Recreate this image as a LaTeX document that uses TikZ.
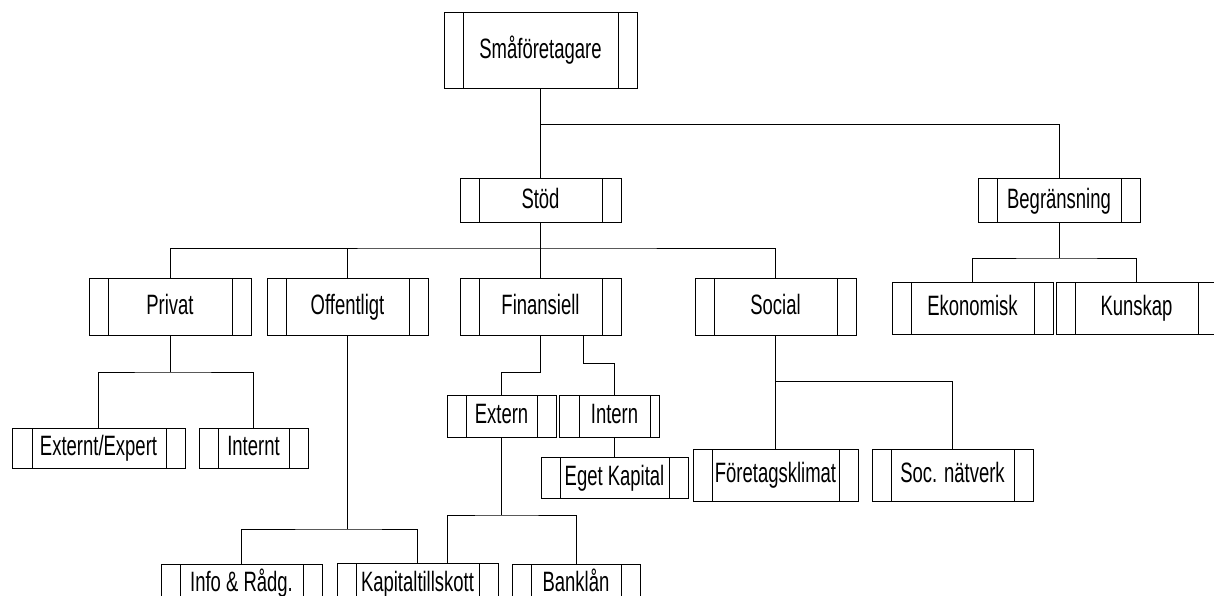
\documentclass[tikz,border=0pt]{standalone}
\usepackage{fontspec}
\setmainfont{Liberation Sans}[FakeStretch=0.66]
\begin{document}
\begin{tikzpicture}[x=1pt,y=-1pt,line width=1pt,
  panel/.style 2 args={draw, rectangle, inner sep=0pt, line width=1pt,
    font=\fontsize{28}{30}\selectfont, text height=20pt, text depth=5pt,
    path picture={
      \draw[line width=1pt] ([xshift=#1pt]path picture bounding box.north west) -- ([xshift=#1pt]path picture bounding box.south west);
      \draw[line width=1pt] ([xshift=-#2pt]path picture bounding box.north east) -- ([xshift=-#2pt]path picture bounding box.south east);}},
  box/.style={panel={19}{19}},
  wire/.style={draw, line width=1pt}]
\useasboundingbox (0,0) rectangle (1214,596);

\node[box, minimum width=193pt, minimum height=76pt] (S) at (540.5,51) {Småföretagare};
\node[box, minimum width=161pt, minimum height=43pt] (stod) at (540.5,200.5) {Stöd};
\node[box, minimum width=162pt, minimum height=43pt] (begr) at (1059,200.5) {Begränsning};
\node[box, minimum width=162pt, minimum height=57pt] (privat) at (170,306.5) {Privat};
\node[box, minimum width=161pt, minimum height=57pt] (off) at (347.5,306.5) {Offentligt};
\node[box, minimum width=161pt, minimum height=57pt] (fin) at (540.5,306.5) {Finansiell};
\node[box, minimum width=161pt, minimum height=57pt] (social) at (775.5,306.5) {Social};
\node[box, minimum width=161pt, minimum height=52pt] (ekon) at (972.5,308) {Ekonomisk};
\node[box, minimum width=161pt, minimum height=52pt] (kunskap) at (1136.5,308) {Kunskap};
\node[panel={20}{19}, minimum width=173pt, minimum height=40pt] (extexp) at (98.5,448) {Externt/Expert};
\node[box, minimum width=109pt, minimum height=40pt] (internt) at (253.5,448) {Internt};
\node[box, minimum width=109pt, minimum height=42pt] (extern) at (501.5,416) {Extern};
\node[panel={20}{9}, minimum width=100pt, minimum height=42pt] (intern) at (609,416) {\hspace*{11pt}Intern};
\node[box, minimum width=147pt, minimum height=41pt] (eget) at (614.5,477.5) {Eget Kapital};
\node[box, minimum width=165pt, minimum height=52pt] (foretag) at (775.5,475) {Företagsklimat};
\node[box, minimum width=161pt, minimum height=52pt] (socnat) at (952.5,475) {Soc. nätverk};
\node[box, minimum width=161pt, minimum height=40pt] (info) at (241.5,584) {Info \& Rådg.};
\node[box, minimum width=161pt, minimum height=42pt] (kapital) at (417.5,584) {Kapitaltillskott};
\node[box, minimum width=128pt, minimum height=40pt] (bank) at (576,584) {Banklån};

\coordinate (j1) at (540.5,125);
\coordinate (j2) at (540.5,248);
\coordinate (j3) at (1059,258);
\coordinate (j4) at (170,372);
\coordinate (j5) at (347.5,529);
\coordinate (j6) at (540.5,372);
\coordinate (j7) at (583,363);
\coordinate (j8) at (501.5,515);
\coordinate (j9) at (775.5,381);

\path[wire] (S.south) -- (stod.north);
\path[wire] (j1) -| (begr.north);
\path[wire] (stod.south) -- (fin.north);
\path[wire] (privat.north) |- (j2) -| (social.north);
\path[wire] (off.north) -- (off.north |- j2);
\path[wire] (begr.south) -- (j3);
\path[wire] (ekon.north) |- (j3) -| (kunskap.north);
\path[wire] (privat.south) -- (j4);
\path[wire] (extexp.north) |- (j4) -| (internt.north);
\path[wire] (off.south) -- (j5);
\path[wire] (info.north) |- (j5) -| (kapital.north);
\path[wire] (fin.south) -- (j6) -| (extern.north);
\path[wire] (j7 |- fin.south) -- (j7) -| ([xshift=5.5pt]intern.north);
\path[wire] ([xshift=5.5pt]intern.south) -- (eget.north);
\path[wire] (extern.south) -- (j8);
\path[wire] ([xshift=29.5pt]kapital.north) |- (j8) -| (bank.north);
\path[wire] (social.south) -- (foretag.north);
\path[wire] (j9) -| (socnat.north);
\end{tikzpicture}
\end{document}
